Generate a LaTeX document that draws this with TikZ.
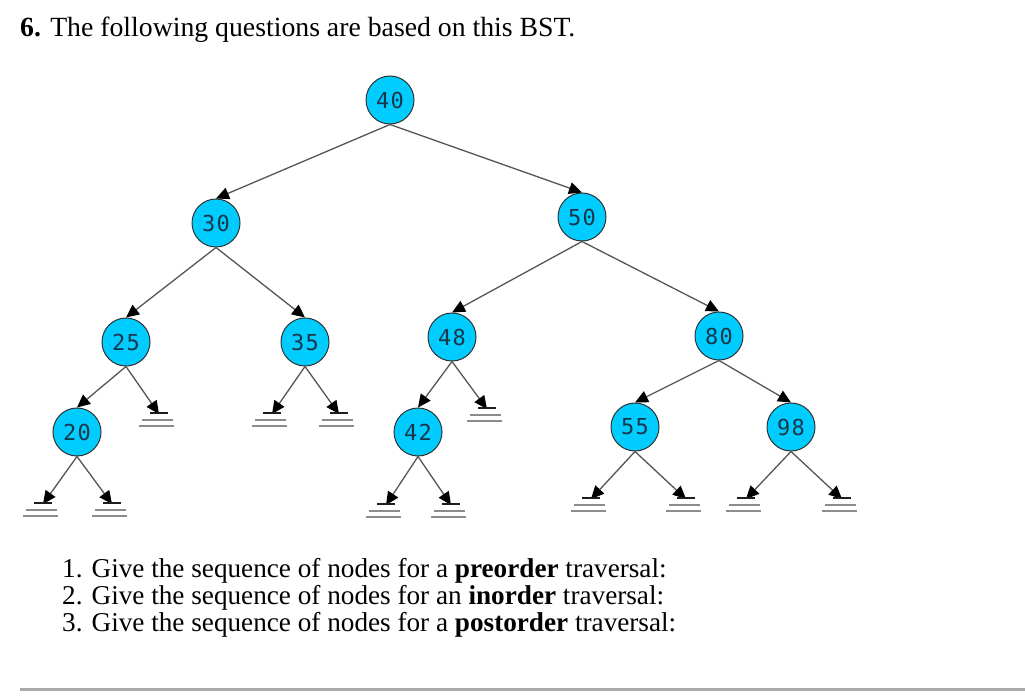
\documentclass[tikz,border=0pt]{standalone}
\usepackage{fontspec}
\setmainfont{Liberation Serif}
\newfontfamily\nodefont[LetterSpace=6]{DejaVu Sans Mono}
\usetikzlibrary{arrows.meta}
\definecolor{nodefill}{RGB}{0,204,255}
\definecolor{nodetext}{RGB}{25,55,75}
\definecolor{edgecol}{RGB}{85,85,85}
\definecolor{groundcol}{RGB}{140,140,140}
\definecolor{rulecol}{RGB}{170,170,170}
\tikzset{
  bstnode/.style={circle, draw={rgb,255:red,50;green,50;blue,50}, line width=1pt, fill=nodefill,
    minimum size=48pt, inner sep=0pt, text=nodetext, font=\nodefont\fontsize{22}{22}\selectfont},
  edge/.style={draw=edgecol, line width=1.3pt, -{Triangle[length=13pt,width=12pt,color=black,fill=black]}},
  gtop/.style={draw={rgb,255:red,30;green,30;blue,30}, line width=1.4pt},
  glow/.style={draw=groundcol, line width=1.6pt},
  txt/.style={anchor=base west, inner sep=0pt, font=\fontsize{27.75}{27.75}\selectfont},
  qtxt/.style={anchor=base west, inner sep=0pt, font=\fontsize{27.2}{27.2}\selectfont}
}
\newcommand{\ground}[1]{%
  \draw[gtop] ([xshift=-9pt]#1) -- ([xshift=9pt]#1);
  \draw[glow] ([xshift=-17pt,yshift=-7pt]#1) -- ([xshift=14pt,yshift=-7pt]#1);
  \draw[glow] ([xshift=-20pt,yshift=-13pt]#1) -- ([xshift=15pt,yshift=-13pt]#1);
}
\begin{document}
\begin{tikzpicture}[x=1pt,y=-1pt]
\useasboundingbox (0,0) rectangle (1025,700);
% title
\node[txt] (title) at (20,37) {\textbf{6.} The following questions are based on this BST.};
% nodes
\node[bstnode] (n40) at (390,100) {40};
\node[bstnode] (n30) at (216,223) {30};
\node[bstnode] (n50) at (582,217) {50};
\node[bstnode] (n25) at (126,342) {25};
\node[bstnode] (n35) at (305,342) {35};
\node[bstnode] (n48) at (452,337) {48};
\node[bstnode] (n80) at (719,336) {80};
\node[bstnode] (n20) at (77,432) {20};
\node[bstnode] (n42) at (418,432) {42};
\node[bstnode] (n55) at (635,427) {55};
\node[bstnode] (n98) at (791,427) {98};
% null coordinates
\coordinate (z20l) at (43,503);
\coordinate (z20r) at (112,503);
\coordinate (z25r) at (159,413);
\coordinate (z35l) at (272,413);
\coordinate (z35r) at (339,413);
\coordinate (z48r) at (487,408);
\coordinate (z42l) at (386,504);
\coordinate (z42r) at (451,504);
\coordinate (z55l) at (591,498);
\coordinate (z55r) at (686,498);
\coordinate (z98l) at (746,498);
\coordinate (z98r) at (842,498);
% edges
\draw[edge] (n40.south) -- (n30.north);
\draw[edge] (n40.south) -- (n50.north);
\draw[edge] (n30.south) -- (n25.north);
\draw[edge] (n30.south) -- (n35.north);
\draw[edge] (n50.south) -- (n48.north);
\draw[edge] (n50.south) -- (n80.north);
\draw[edge] (n25.south) -- (n20.north);
\draw[edge] (n48.south) -- (n42.north);
\draw[edge] (n80.south) -- (n55.north);
\draw[edge] (n80.south) -- (n98.north);
% edges to null
\draw[edge] (n20.south) -- ([yshift=-1pt]z20l);
\draw[edge] (n20.south) -- ([yshift=-1pt]z20r);
\draw[edge] (n25.south) -- ([yshift=-1pt]z25r);
\draw[edge] (n35.south) -- ([yshift=-1pt]z35l);
\draw[edge] (n35.south) -- ([yshift=-1pt]z35r);
\draw[edge] (n48.south) -- ([yshift=-1pt]z48r);
\draw[edge] (n42.south) -- ([yshift=-1pt]z42l);
\draw[edge] (n42.south) -- ([yshift=-1pt]z42r);
\draw[edge] (n55.south) -- ([yshift=-1pt]z55l);
\draw[edge] (n55.south) -- ([yshift=-1pt]z55r);
\draw[edge] (n98.south) -- ([yshift=-1pt]z98l);
\draw[edge] (n98.south) -- ([yshift=-1pt]z98r);
% ground symbols
\ground{z20l}\ground{z20r}\ground{z25r}\ground{z35l}\ground{z35r}\ground{z48r}
\ground{z42l}\ground{z42r}\ground{z55l}\ground{z55r}\ground{z98l}\ground{z98r}
% questions
\node[qtxt] (q1) at (62,577) {1. Give the sequence of nodes for a \textbf{preorder} traversal:};
\node[qtxt] (q2) at (62,604) {2. Give the sequence of nodes for an \textbf{inorder} traversal:};
\node[qtxt] (q3) at (62,631) {3. Give the sequence of nodes for a \textbf{postorder} traversal:};
% rule
\coordinate (ra) at (20,689);
\coordinate (rb) at (1025,689);
\draw[draw=rulecol, line width=3pt] (ra) -- (rb);
\end{tikzpicture}
\end{document}
